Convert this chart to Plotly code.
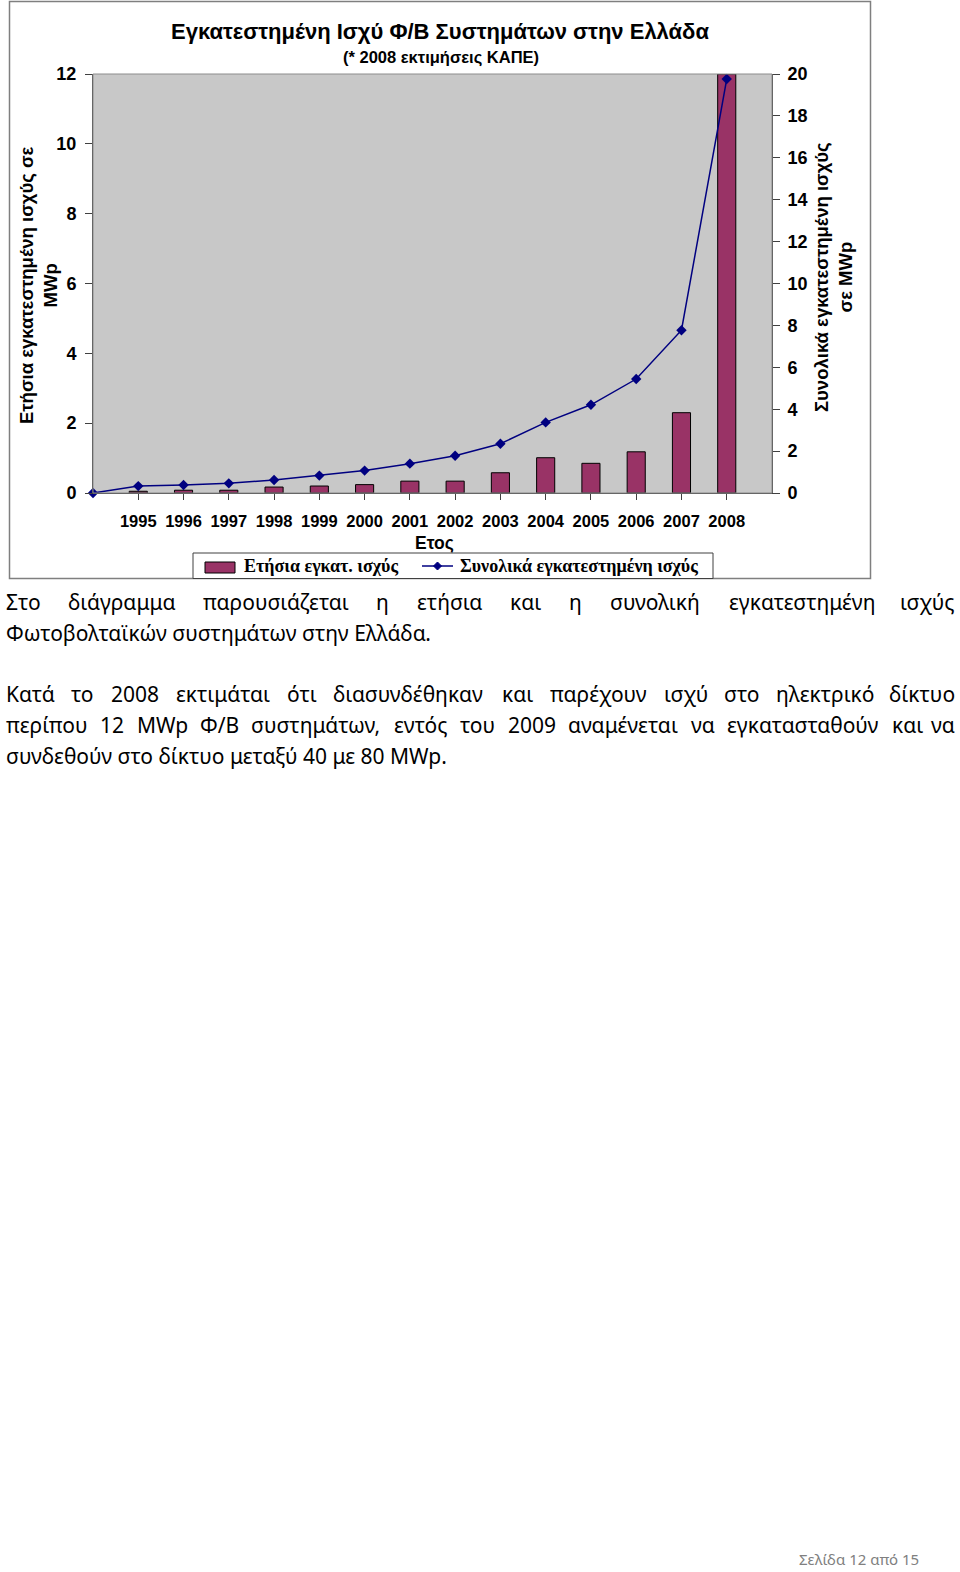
import plotly.graph_objects as go

# ---------------- data ----------------
years = ["", "1995", "1996", "1997", "1998", "1999", "2000", "2001", "2002",
         "2003", "2004", "2005", "2006", "2007", "2008"]
annual = [None, 0.05, 0.08, 0.08, 0.17, 0.20, 0.24, 0.34, 0.34,
          0.58, 1.01, 0.85, 1.18, 2.30, 12.0]
cumulative = [0.0, 0.33, 0.38, 0.46, 0.62, 0.83, 1.07, 1.40, 1.78,
              2.35, 3.37, 4.21, 5.44, 7.77, 19.76]

title_text = "Εγκατεστημένη Ισχύ Φ/Β Συστημάτων στην Ελλάδα"
subtitle_text = "(* 2008 εκτιμήσεις ΚΑΠΕ)"
left_title = "Ετήσια εγκατεστημένη ισχύς σε<br>MWp"
right_title = "Συνολικά εγκατεστημένη ισχύς<br>σε MWp"
x_title = "Ετος"
series_names = ["Ετήσια εγκατ. ισχύς", "Συνολικά εγκατεστημένη ισχύς"]

para1_justified = "Στο διάγραμμα παρουσιάζεται η ετήσια και η συνολική εγκατεστημένη ισχύς"
para1_last = "Φωτοβολταϊκών συστημάτων στην Ελλάδα."
para2_justified = [
    "Κατά το 2008 εκτιμάται ότι διασυνδέθηκαν και παρέχουν ισχύ στο ηλεκτρικό δίκτυο",
    "περίπου 12 MWp Φ/Β συστημάτων, εντός του 2009 αναμένεται να εγκατασταθούν και να",
]
para2_last = "συνδεθούν στο δίκτυο μεταξύ 40 με 80 MWp."
footer_text = "Σελίδα 12 από 15"

W, H = 960, 1572
BAR_COLOR = "#993366"
LINE_COLOR = "#000080"


def px(x):
    return x / W


def py(y):
    return 1 - y / H


xpos = list(range(len(years)))

fig = go.Figure()
fig.add_trace(go.Bar(
    x=xpos, y=annual, name=series_names[0], width=0.4,
    marker=dict(color=BAR_COLOR, line=dict(color="#000000", width=1)),
    yaxis="y", showlegend=False,
))
fig.add_trace(go.Scatter(
    x=xpos, y=cumulative, name=series_names[1], mode="lines+markers",
    line=dict(color=LINE_COLOR, width=1.5),
    marker=dict(symbol="diamond", size=8, color=LINE_COLOR),
    yaxis="y2", cliponaxis=False, showlegend=False,
))

tickfont = dict(family="Liberation Sans, Arial", size=18, color="#000000", weight="bold")

fig.update_layout(
    width=W, height=H, autosize=False,
    margin=dict(l=0, r=0, t=0, b=0, pad=0, autoexpand=False),
    paper_bgcolor="white",
    plot_bgcolor="#C8C8C8",
    showlegend=False,
    xaxis=dict(
        domain=[px(93), px(772)], range=[0, 15], automargin=False,
        tickvals=xpos[1:], ticktext=years[1:],
        ticks="outside", ticklen=6, tickcolor="#404040",
        showline=True, linecolor="#404040", linewidth=1,
        showgrid=False, zeroline=False,
        tickfont=dict(family="Liberation Sans, Arial", size=16.5, color="#000000", weight="bold"),
        ticklabelstandoff=7,
    ),
    yaxis=dict(
        domain=[py(493), py(74)], range=[0, 12], dtick=2, automargin=False,
        ticks="outside", ticklen=7, tickcolor="#404040",
        showline=True, linecolor="#404040", linewidth=1,
        showgrid=False, zeroline=False,
        tickfont=tickfont, ticklabelstandoff=5,
    ),
    yaxis2=dict(
        overlaying="y", side="right", anchor="x", automargin=False,
        range=[0, 20], dtick=2,
        ticks="outside", ticklen=7, tickcolor="#404040",
        showline=True, linecolor="#404040", linewidth=1,
        showgrid=False, zeroline=False,
        tickfont=tickfont, ticklabelstandoff=4,
    ),
)


def dpath(cx, cy, r):
    return (f"M {px(cx)} {py(cy - r)} L {px(cx + r)} {py(cy)} "
            f"L {px(cx)} {py(cy + r)} L {px(cx - r)} {py(cy)} Z")


shapes = [
    # outer chart border
    dict(type="rect", xref="paper", yref="paper", x0=px(9.5), x1=px(870.5),
         y0=py(578.5), y1=py(1.5), line=dict(color="#7f7f7f", width=1.5), layer="below"),
    # plot area frame
    dict(type="rect", xref="paper", yref="paper", x0=px(93), x1=px(772),
         y0=py(493), y1=py(74), line=dict(color="#8c8c8c", width=1), layer="above"),
    # legend box
    dict(type="rect", xref="paper", yref="paper", x0=px(193), x1=px(713),
         y0=py(578.5), y1=py(553), line=dict(color="#404040", width=1),
         fillcolor="white", layer="above"),
    # legend swatch: bars
    dict(type="rect", xref="paper", yref="paper", x0=px(205), x1=px(235),
         y0=py(573), y1=py(562), line=dict(color="#000000", width=1),
         fillcolor=BAR_COLOR, layer="above"),
    # legend swatch: line
    dict(type="line", xref="paper", yref="paper", x0=px(422), x1=px(453),
         y0=py(566), y1=py(566), line=dict(color=LINE_COLOR, width=1.5), layer="above"),
    dict(type="path", xref="paper", yref="paper", path=dpath(437.5, 566, 4),
         fillcolor=LINE_COLOR, line=dict(color=LINE_COLOR, width=1), layer="above"),
]
fig.update_layout(shapes=shapes)

ann = []


def add_text(text, x, y, size, xanchor="center", family="Liberation Sans, Arial",
             weight="bold", color="#000000", angle=0):
    ann.append(dict(text=text, x=px(x), y=py(y), xref="paper", yref="paper",
                    showarrow=False, xanchor=xanchor, yanchor="middle", textangle=angle,
                    font=dict(family=family, size=size, color=color, weight=weight)))


add_text(title_text, 440, 32, 22)
add_text(subtitle_text, 441, 58, 16.5)
add_text(left_title, 38, 285, 18.5, angle=-90)
add_text(right_title, 833, 277, 18.5, angle=-90)
add_text(x_title, 434, 543, 17.5)
add_text(series_names[0], 242, 566, 18, xanchor="left", family="Liberation Serif, Times New Roman")
add_text(series_names[1], 458, 566, 18, xanchor="left", family="Liberation Serif, Times New Roman")

# ---- body text (justified lines approximated with per-word placement) ----
BODY_FAMILY = "Noto Sans, Open Sans, DejaVu Sans"
BODY_SIZE = 21
CW = {
    "α": .60, "ά": .60, "β": .60, "γ": .53, "δ": .60, "ε": .50, "έ": .50, "ζ": .47,
    "η": .61, "ή": .61, "θ": .60, "ι": .31, "ί": .31, "ϊ": .31, "κ": .55, "λ": .55,
    "μ": .63, "ν": .53, "ξ": .47, "ο": .60, "ό": .60, "π": .64, "ρ": .60, "σ": .60,
    "ς": .48, "τ": .47, "υ": .60, "ύ": .60, "φ": .78, "χ": .53, "ψ": .78, "ω": .82,
    "ώ": .82, "Κ": .62, "Σ": .56, "Φ": .80, "Ε": .56, "Β": .64, "M": .90, "W": .93,
    "p": .62, ",": .27, "/": .37, ".": .27,
}


def wwidth(w):
    return sum(CW.get(c, 0.572 if c.isdigit() else 0.58) for c in w) * BODY_SIZE


def justify(line, yc, left=4, right=957):
    words = line.split(" ")
    widths = [wwidth(w) for w in words]
    gap = (right - left - sum(widths)) / (len(words) - 1)
    x = left
    for i, w in enumerate(words):
        if i == len(words) - 1:
            add_text(w, right, yc, BODY_SIZE, xanchor="right", family=BODY_FAMILY, weight="normal")
        else:
            add_text(w, x, yc, BODY_SIZE, xanchor="left", family=BODY_FAMILY, weight="normal")
        x += widths[i] + gap


justify(para1_justified, 602)
add_text(para1_last, 4, 633, BODY_SIZE, xanchor="left", family=BODY_FAMILY, weight="normal")
justify(para2_justified[0], 694)
justify(para2_justified[1], 725)
add_text(para2_last, 4, 756, BODY_SIZE, xanchor="left", family=BODY_FAMILY, weight="normal")

add_text(footer_text, 921, 1559, 15, xanchor="right", family=BODY_FAMILY,
         weight="normal", color="#808080")

fig.update_layout(annotations=ann)

fig.write_html(
    "out.html",
    post_script="document.body.style.margin='0';document.body.style.padding='0';"
                "document.documentElement.style.overflow='hidden';",
)
